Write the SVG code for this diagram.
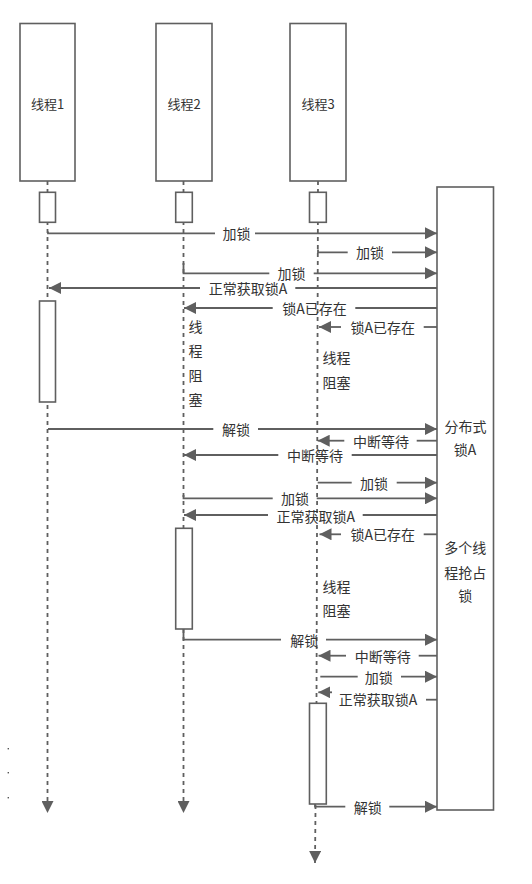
<svg xmlns="http://www.w3.org/2000/svg" width="532" height="884" viewBox="0 0 532 884">
<style>
.box{fill:#fff;stroke:#5f5f5f;stroke-width:1.6}
.life{fill:none;stroke:#5f5f5f;stroke-width:1.8;stroke-dasharray:4 4}
.ln{fill:none;stroke:#5f5f5f;stroke-width:1.8}
text{font-family:"Noto Sans CJK SC","Liberation Sans",sans-serif;fill:#333;dominant-baseline:central}
.t13{font-size:13px}
.t14{font-size:14px}
.c{text-anchor:middle}
</style>
<defs>
<marker id="ah" markerUnits="userSpaceOnUse" markerWidth="12" markerHeight="12" viewBox="0 0 11 11" refX="11" refY="5.5" orient="auto">
<path d="M0,0 L11,5.5 L0,11 Z" fill="#5f5f5f"/>
</marker>
</defs>
<rect width="532" height="884" fill="#fff"/>

<g id="thread1">
<path class="life" d="M47.5,181 V813" marker-end="url(#ah)"/>
<rect class="box" x="20" y="23.5" width="55" height="157.5"/>
<text class="t13 c" x="47.5" y="103">线程1</text>
<rect class="box" x="39.5" y="192.3" width="16" height="30"/>
<rect class="box" x="39.5" y="301" width="16" height="101"/>
</g>

<g id="thread2">
<path class="life" d="M183.5,181 V813" marker-end="url(#ah)"/>
<rect class="box" x="156" y="23.5" width="56" height="157.5"/>
<text class="t13 c" x="184" y="103">线程2</text>
<rect class="box" x="175.7" y="192.3" width="16.6" height="30"/>
<rect class="box" x="175.7" y="528.3" width="16.6" height="100.7"/>
</g>

<g id="thread3">
<path class="life" d="M318,181 L316.5,703 L315,863" marker-end="url(#ah)"/>
<rect class="box" x="290" y="23.5" width="56" height="157.5"/>
<text class="t13 c" x="318" y="103">线程3</text>
<rect class="box" x="309.5" y="192.3" width="16.8" height="30"/>
<rect class="box" x="309.5" y="703.3" width="16.8" height="100.7"/>
</g>

<g id="lockA">
<rect class="box" x="437" y="187" width="56.5" height="623"/>
<text class="t14 c" x="465.5" y="425.7">分布式</text>
<text class="t14 c" x="465" y="449">锁A</text>
<text class="t14 c" x="465.3" y="547.3">多个线</text>
<text class="t14 c" x="465.3" y="571.7">程抢占</text>
<text class="t14 c" x="465.3" y="595">锁</text>
</g>

<g id="notes">
<text class="t14 c" x="195.5" y="326">线</text>
<text class="t14 c" x="195.5" y="350">程</text>
<text class="t14 c" x="195.5" y="375">阻</text>
<text class="t14 c" x="195.5" y="399">塞</text>
<text class="t14" x="322.5" y="356.7">线程</text>
<text class="t14" x="322.5" y="381.7">阻塞</text>
<text class="t14" x="322.5" y="585.7">线程</text>
<text class="t14" x="322.5" y="610">阻塞</text>
<rect x="7.6" y="748" width="1.4" height="1.4" fill="#555"/>
<rect x="7.6" y="772" width="1.4" height="1.4" fill="#555"/>
<rect x="7.6" y="797" width="1.4" height="1.4" fill="#555"/>
</g>

<g id="connectors">
<path class="ln" d="M48,231.5 V233.3 H215"/>
<path class="ln" d="M255,233.3 H437" marker-end="url(#ah)"/>
<text class="t14 c" x="236.5" y="233.3">加锁</text>
<path class="ln" d="M318,249.5 V252.3 H347.7"/>
<path class="ln" d="M392,252.3 H437" marker-end="url(#ah)"/>
<text class="t14 c" x="370" y="252.3">加锁</text>
<path class="ln" d="M183.5,263 V273.3 H269.3"/>
<path class="ln" d="M313.7,273.3 H437" marker-end="url(#ah)"/>
<text class="t14 c" x="291.5" y="273.3">加锁</text>
<path class="ln" d="M437,288 H295.3"/>
<path class="ln" d="M200,288 H49" marker-end="url(#ah)"/>
<text class="t14 c" x="248" y="288">正常获取锁A</text>
<path class="ln" d="M437,308 H355.3"/>
<path class="ln" d="M272.7,308 H184" marker-end="url(#ah)"/>
<text class="t14 c" x="314.5" y="308">锁A已存在</text>
<path class="ln" d="M437,327 H423.7"/>
<path class="ln" d="M341,327 H319" marker-end="url(#ah)"/>
<text class="t14 c" x="382.7" y="327">锁A已存在</text>
<path class="ln" d="M48,429 H213.3"/>
<path class="ln" d="M258,429 H437" marker-end="url(#ah)"/>
<text class="t14 c" x="236" y="429">解锁</text>
<path class="ln" d="M437,440.7 H416.7"/>
<path class="ln" d="M344.3,440.7 H317.7" marker-end="url(#ah)"/>
<text class="t14 c" x="381" y="440.7">中断等待</text>
<path class="ln" d="M437,455 H351.7"/>
<path class="ln" d="M278.3,455 H184" marker-end="url(#ah)"/>
<text class="t14 c" x="315" y="455">中断等待</text>
<path class="ln" d="M317.7,482.7 H351.7"/>
<path class="ln" d="M396.7,482.7 H437" marker-end="url(#ah)"/>
<text class="t14 c" x="374" y="482.7">加锁</text>
<path class="ln" d="M183.5,495 V498.3 H272.7"/>
<path class="ln" d="M316.7,498.3 H437" marker-end="url(#ah)"/>
<text class="t14 c" x="295" y="497.8">加锁</text>
<path class="ln" d="M437,515 H362.7"/>
<path class="ln" d="M268,515 H184" marker-end="url(#ah)"/>
<text class="t14 c" x="315.7" y="515.5">正常获取锁A</text>
<path class="ln" d="M437,534.3 H423.7"/>
<path class="ln" d="M341,534.3 H319.5" marker-end="url(#ah)"/>
<text class="t14 c" x="382.7" y="534.3">锁A已存在</text>
<path class="ln" d="M183.5,629 V639.7 H281"/>
<path class="ln" d="M326,639.7 H437" marker-end="url(#ah)"/>
<text class="t14 c" x="304.3" y="639.7">解锁</text>
<path class="ln" d="M437,655.7 H418.7"/>
<path class="ln" d="M346,655.7 H318.5" marker-end="url(#ah)"/>
<text class="t14 c" x="382.8" y="655.7">中断等待</text>
<path class="ln" d="M320.3,676.7 H357.7"/>
<path class="ln" d="M401,676.7 H437" marker-end="url(#ah)"/>
<text class="t14 c" x="378.8" y="676.7">加锁</text>
<path class="ln" d="M437,699.7 H426"/>
<path class="ln" d="M332,692.3 H318.3" marker-end="url(#ah)"/>
<text class="t14 c" x="378" y="699">正常获取锁A</text>
<path class="ln" d="M315,804 V806.7 H345.3"/>
<path class="ln" d="M389.3,806.7 H437" marker-end="url(#ah)"/>
<text class="t14 c" x="367.7" y="806.7">解锁</text>
</g>
</svg>
